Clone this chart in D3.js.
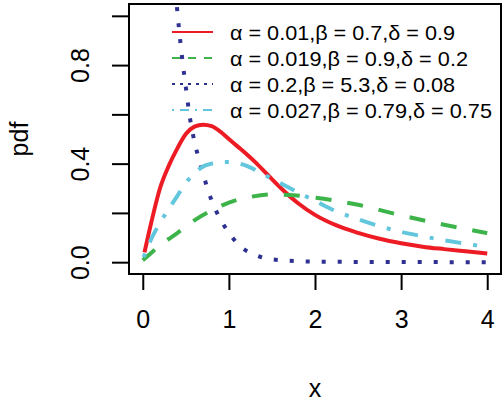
<!DOCTYPE html>
<html>
<head>
<meta charset="utf-8">
<script src="https://cdn.jsdelivr.net/npm/d3@7"></script>
<style>
  body { margin: 0; background: #fff; }
  text { font-family: "Liberation Sans", Arial, sans-serif; fill: #000; }
</style>
</head>
<body>
<div id="chart"></div>
<script>
'use strict';

// values
var redX   = [0.02, 0.1, 0.2, 0.3, 0.4, 0.5, 0.6, 0.7, 0.8, 0.9, 1.0, 1.1, 1.2, 1.3, 1.4, 1.5, 1.6, 1.8, 2.0, 2.25, 2.5, 2.75, 3.0, 3.25, 3.5, 3.75, 4.0];
var redY   = [0.04, 0.163, 0.30, 0.39, 0.461, 0.52, 0.55, 0.558, 0.552, 0.53, 0.50, 0.47, 0.44, 0.408, 0.373, 0.337, 0.302, 0.24, 0.192, 0.149, 0.119, 0.095, 0.077, 0.063, 0.053, 0.044, 0.035];

var greenX = [0.0, 0.1, 0.2, 0.3, 0.4, 0.6, 0.8, 1.0, 1.25, 1.5, 1.75, 2.0, 2.5, 3.0, 3.5, 4.0];
var greenY = [0.008, 0.038, 0.07, 0.094, 0.118, 0.17, 0.21, 0.242, 0.265, 0.275, 0.272, 0.262, 0.233, 0.19, 0.152, 0.118];

var blueX  = [0.38, 0.42, 0.46, 0.50, 0.55, 0.60, 0.65, 0.70, 0.75, 0.80, 0.90, 1.0, 1.1, 1.2, 1.3, 1.4, 1.6, 1.8, 2.0, 2.5, 3.0, 4.0];
var blueY  = [1.10, 0.95, 0.82, 0.71, 0.58, 0.49, 0.42, 0.36, 0.30, 0.25, 0.175, 0.12, 0.075, 0.047, 0.03, 0.018, 0.008, 0.004, 0.002, 0.001, 0.0005, 0.0];

var cyanX  = [0.01, 0.1, 0.2, 0.3, 0.4, 0.5, 0.6, 0.7, 0.8, 0.9, 1.0, 1.2, 1.4, 1.6, 1.8, 2.0, 2.25, 2.5, 2.75, 3.0, 3.25, 3.5, 3.75, 4.0];
var cyanY  = [0.02, 0.095, 0.16, 0.215, 0.268, 0.322, 0.36, 0.388, 0.40, 0.406, 0.407, 0.392, 0.357, 0.32, 0.284, 0.249, 0.206, 0.174, 0.146, 0.123, 0.105, 0.089, 0.075, 0.061];

var legendLabels = [
  "\u03b1 = 0.01,\u03b2 = 0.7,\u03b4 = 0.9",
  "\u03b1 = 0.019,\u03b2 = 0.9,\u03b4 = 0.2",
  "\u03b1 = 0.2,\u03b2 = 5.3,\u03b4 = 0.08",
  "\u03b1 = 0.027,\u03b2 = 0.79,\u03b4 = 0.75"
];

var xTicks = [0, 1, 2, 3, 4];
var yTicks = [0, 0.2, 0.4, 0.6, 0.8, 1.0];
var yTickLabels = ["0.0", "", "0.4", "", "0.8", ""];

(function() {
    var width = 503, height = 403;
    var margin = { left: 129, right: 2, top: 4, bottom: 129 };
    var w = width - margin.left - margin.right,
        h = height - margin.top - margin.bottom;

    var colors = ["#ed1c24", "#3cb44a", "#2e3192", "#62c6dc"];
    var dashes = ["none", "16,16", "4,12", "4,12,16,12"];
    var legendDashes = ["none", "8,8", "3,5", "2,6,9,6"];
    // text widths measured on the reference
    var legendWidths = [225, 238, 225, 262];

    var series = [
        { x: redX, y: redY },
        { x: greenX, y: greenY },
        { x: blueX, y: blueY },
        { x: cyanX, y: cyanY }
    ];

    var svg = d3.select("#chart").append("svg")
        .attr("width", width)
        .attr("height", height);

    var g = svg.append("g")
        .attr("transform", "translate(" + margin.left + "," + margin.top + ")");

    var x = d3.scaleLinear().domain([-0.16, 4.16]).range([0, w]);
    var y = d3.scaleLinear().domain([-0.048, 1.048]).range([h, 0]);

    g.append("clipPath").attr("id", "clip")
        .append("rect").attr("width", w).attr("height", h);

    // Legend (no box)
    var leg = g.append("g").attr("class", "legend");
    legendLabels.forEach(function(lab, i) {
        var ly = 28 + i * 26;
        leg.append("line")
            .attr("x1", 43).attr("x2", 84)
            .attr("y1", ly).attr("y2", ly)
            .attr("stroke", colors[i])
            .attr("stroke-width", 2)
            .attr("stroke-dasharray", legendDashes[i]);
        leg.append("text")
            .attr("x", 101)
            .attr("y", ly)
            .attr("dy", "0.36em")
            .attr("font-size", "21px")
            .attr("textLength", legendWidths[i])
            .attr("lengthAdjust", "spacingAndGlyphs")
            .text(lab);
    });

    // Curves
    var line = d3.line()
        .x(function(d) { return x(d[0]); })
        .y(function(d) { return y(d[1]); })
        .curve(d3.curveMonotoneX);

    var curves = g.append("g").attr("clip-path", "url(#clip)");
    series.forEach(function(s, i) {
        var pts = s.x.map(function(v, j) { return [v, s.y[j]]; });
        curves.append("path")
            .datum(pts)
            .attr("d", line)
            .attr("fill", "none")
            .attr("stroke", colors[i])
            .attr("stroke-width", 4)
            .attr("stroke-dasharray", dashes[i]);
    });

    // Box
    g.append("rect")
        .attr("width", w).attr("height", h)
        .attr("fill", "none")
        .attr("stroke", "#000")
        .attr("stroke-width", 2);

    // X Axis
    var xAxisCall = d3.axisBottom(x)
        .tickValues(xTicks)
        .tickSize(16)
        .tickPadding(20)
        .tickFormat(d3.format("d"));
    var xa = g.append("g")
        .attr("class", "x axis")
        .attr("transform", "translate(0," + h + ")")
        .call(xAxisCall);
    xa.select(".domain").remove();
    xa.selectAll("line").attr("stroke-width", 2);
    xa.selectAll("text").attr("font-size", "25px").attr("font-family", "Liberation Sans, Arial, sans-serif");

    // Y Axis
    var yAxisCall = d3.axisLeft(y)
        .tickValues(yTicks)
        .tickSize(17)
        .tickFormat(function(d, i) { return yTickLabels[i]; });
    var ya = g.append("g")
        .attr("class", "y axis")
        .call(yAxisCall);
    ya.select(".domain").remove();
    ya.selectAll("line").attr("stroke-width", 2);
    ya.selectAll("text")
        .attr("x", null).attr("dy", null)
        .attr("font-size", "25px")
        .attr("font-family", "Liberation Sans, Arial, sans-serif")
        .attr("text-anchor", "middle")
        .attr("transform", "translate(-49,0) rotate(-90)")
        .attr("dy", "0.36em");

    // X Label
    svg.append("text")
        .attr("x", x(2) + margin.left)
        .attr("y", 397)
        .attr("font-size", "25px")
        .attr("text-anchor", "middle")
        .text("x");

    // Y Label
    svg.append("text")
        .attr("transform", "translate(19," + (y(0.5) + margin.top) + ") rotate(-90)")
        .attr("dy", "0.36em")
        .attr("font-size", "25px")
        .attr("text-anchor", "middle")
        .text("pdf");
})();
</script>
</body>
</html>
